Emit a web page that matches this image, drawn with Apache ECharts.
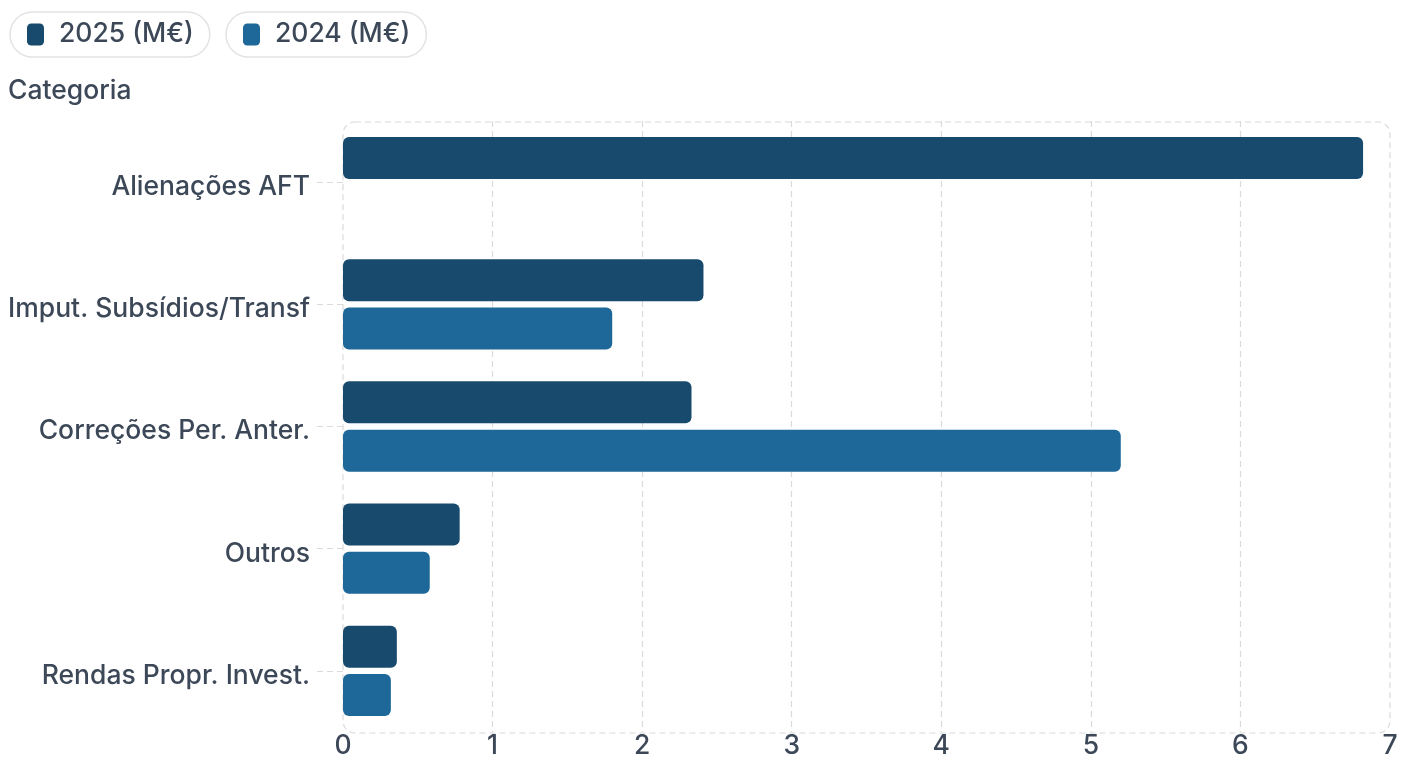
<!DOCTYPE html>
<html>
<head>
<meta charset="utf-8">
<script src="https://cdn.jsdelivr.net/npm/echarts@6/dist/echarts.min.js"></script>
<style>
  html, body { margin: 0; padding: 0; background: #ffffff; }
  #chart { width: 1401px; height: 760px; }
</style>
</head>
<body>
<div id="chart"></div>
<script>
// Categories, top to bottom
const categories = [
  'Alienações AFT',
  'Imput. Subsídios/Transf',
  'Correções Per. Anter.',
  'Outros',
  'Rendas Propr. Invest.'
];
// Values in millions of euros
const values2025 = [6.82, 2.41, 2.33, 0.78, 0.36];
const values2024 = [null, 1.80, 5.20, 0.58, 0.32];
const seriesNames = ['2025 (M€)', '2024 (M€)'];
const xTicks = [0, 1, 2, 3, 4, 5, 6, 7];

const colors = ['#174a6c', '#1d6898'];
const textColor = '#3c4858';
const font = 'Inter, "Noto Sans", sans-serif';
const fontSize = 26.5;
const fontWeight = 500;

// plotting area and the dashed frame drawn around it
const GRID = { left: 343, top: 121, right: 11, bottom: 25 };
const FRAME = { x: 343, y: 122, width: 1047, height: 611, r: 12 };

const chart = echarts.init(document.getElementById('chart'), null, { renderer: 'canvas' });

function pillLegend(name, left) {
  return {
    data: [name],
    left: left,
    top: 12,
    orient: 'horizontal',
    icon: 'roundRect',
    itemWidth: 17,
    itemHeight: 22,
    borderColor: '#e3e3e3',
    borderWidth: 1.5,
    borderRadius: 23,
    padding: [9, 16, 9, 17],
    selectedMode: false,
    textStyle: {
      color: textColor,
      fontFamily: font,
      fontSize: fontSize,
      fontWeight: fontWeight,
      padding: [0, 0, 0, 10]
    }
  };
}

chart.setOption({
  animation: false,
  color: colors,
  title: {
    text: 'Categoria',
    left: 8,
    top: 78,
    padding: 0,
    textStyle: { color: textColor, fontFamily: font, fontSize: fontSize, fontWeight: fontWeight }
  },
  legend: [pillLegend(seriesNames[0], 10), pillLegend(seriesNames[1], 226)],
  grid: { left: GRID.left, right: GRID.right, top: GRID.top, bottom: GRID.bottom, containLabel: false },
  xAxis: {
    type: 'value',
    min: xTicks[0],
    max: xTicks[xTicks.length - 1],
    interval: 1,
    axisLine: { show: false },
    axisTick: { show: false },
    axisLabel: {
      color: textColor,
      fontFamily: font,
      fontSize: fontSize,
      fontWeight: fontWeight,
      margin: 1,
      formatter: v => String(v)
    },
    splitLine: {
      show: true,
      showMinLine: false,
      showMaxLine: false,
      lineStyle: { color: '#dadada', type: [6, 4], width: 1.2 }
    }
  },
  yAxis: {
    type: 'category',
    data: categories,
    inverse: true,
    axisLine: { show: false },
    axisTick: {
      show: true,
      alignWithLabel: true,
      length: 26,
      lineStyle: { color: '#dadada', type: [6, 4], width: 1.2 }
    },
    axisLabel: {
      color: textColor,
      fontFamily: font,
      fontSize: fontSize,
      fontWeight: fontWeight,
      margin: 33,
      formatter: v => '{l|' + v + '}',
      rich: {
        l: {
          color: textColor,
          fontFamily: font,
          fontSize: fontSize,
          fontWeight: fontWeight,
          lineHeight: 30,
          padding: [10, 0, 0, 0]
        }
      }
    },
    splitLine: { show: false }
  },
  series: [
    {
      name: seriesNames[0],
      type: 'bar',
      data: values2025,
      barWidth: 42,
      barGap: '15%',
      itemStyle: { color: colors[0], borderRadius: 6 }
    },
    {
      name: seriesNames[1],
      type: 'bar',
      data: values2024,
      barWidth: 42,
      barGap: '15%',
      itemStyle: { color: colors[1], borderRadius: 6 }
    }
  ],
  graphic: [
    {
      type: 'rect',
      silent: true,
      z: -1,
      shape: FRAME,
      style: { fill: 'none', stroke: '#dadada', lineWidth: 1.2, lineDash: [6, 4] }
    }
  ]
});
</script>
</body>
</html>
